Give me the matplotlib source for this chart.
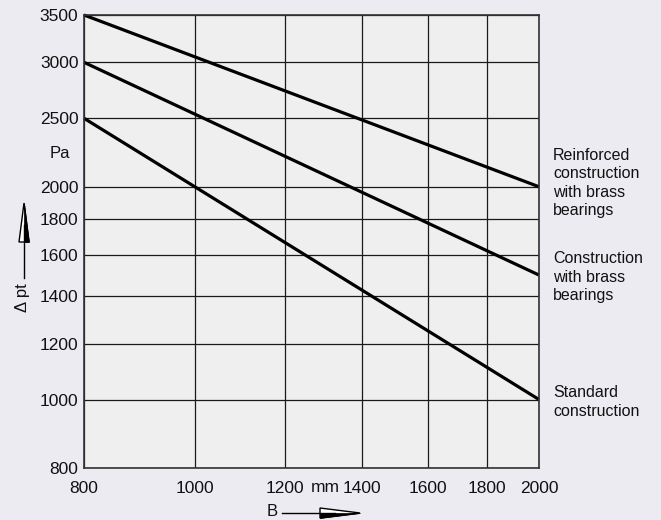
import matplotlib
matplotlib.use("Agg")
import matplotlib.pyplot as plt
from matplotlib.patches import Polygon
from matplotlib.lines import Line2D

plt.rcParams['font.family'] = ['Liberation Sans', 'DejaVu Sans']

# fan width B (mm) at both ends of the range
b_ends = [800, 2000]

# pressure drop curves (Pa), straight lines on log-log paper
reinforced = [3500, 2000]
brass = [3000, 1500]
standard = [2500, 1000]

x_ticks = [800, 1000, 1200, 1400, 1600, 1800, 2000]
y_ticks = [800, 1000, 1200, 1400, 1600, 1800, 2000, 2500, 3000, 3500]

labels = ["Reinforced\nconstruction\nwith brass\nbearings",
          "Construction\nwith brass\nbearings",
          "Standard\nconstruction"]
label_y = [183, 277, 402]   # block centres, pixels from top

W, H = 661, 520
fig = plt.figure(figsize=(W / 100, H / 100), dpi=100)
fig.patch.set_facecolor('#edebf2')

ax = fig.add_axes([84 / W, 1 - 468 / H, (539 - 84) / W, (468 - 15) / H])
ax.set_facecolor('#efefef')
ax.set_xscale('log')
ax.set_yscale('log')
ax.set_xlim(800, 2000)
ax.set_ylim(800, 3500)

ax.set_xticks(x_ticks)
ax.set_xticklabels([str(v) for v in x_ticks])
ax.set_yticks(y_ticks)
ax.set_yticklabels([str(v) for v in y_ticks])
ax.xaxis.set_minor_locator(matplotlib.ticker.NullLocator())
ax.yaxis.set_minor_locator(matplotlib.ticker.NullLocator())
ax.tick_params(axis='both', length=0, labelsize=12.5, colors='#111111')
ax.tick_params(axis='y', pad=4)
ax.tick_params(axis='x', pad=9.5)

ax.grid(True, color='#1a1a1a', lw=0.9)
for s in ax.spines.values():
    s.set_color('#333333')
    s.set_linewidth(1.2)

for ys in (reinforced, brass, standard):
    ax.plot(b_ends, ys, color='black', lw=2.3, solid_capstyle='butt', clip_on=False)


def px(x, y):
    # pixel position (from top-left) to figure fraction
    return x / W, 1 - y / H


for txt, yc in zip(labels, label_y):
    fig.text(*px(553, yc), txt, ha='left', va='center', fontsize=11.5,
             linespacing=1.3, color='#111111')

fig.text(*px(325, 487), "mm", ha='center', va='center', fontsize=12.5, color='#111111')
fig.text(*px(60, 153), "Pa", ha='center', va='center', fontsize=12, color='#111111')

# vertical arrow for Δpt
fig.add_artist(Line2D(*zip(px(24, 278), px(24, 225)), transform=fig.transFigure,
                      color='black', lw=1.0))
fig.add_artist(Polygon([px(24, 203), px(19, 242), px(29, 242)], closed=True,
                       transform=fig.transFigure, facecolor='white', edgecolor='black', lw=1.0))
fig.add_artist(Polygon([px(24, 203), px(24, 242), px(29, 242)], closed=True,
                       transform=fig.transFigure, facecolor='black', edgecolor='black', lw=0.5))
fig.text(*px(23, 298), "Δ pt", rotation=90, ha='center', va='center', fontsize=12,
         color='#111111')

# horizontal arrow for B
fig.text(*px(272, 511), "B", ha='center', va='center', fontsize=12, color='#111111')
fig.add_artist(Line2D(*zip(px(282, 513), px(335, 513)), transform=fig.transFigure,
                      color='black', lw=1.0))
fig.add_artist(Polygon([px(360, 513), px(320, 508), px(320, 518)], closed=True,
                       transform=fig.transFigure, facecolor='white', edgecolor='black', lw=1.0))
fig.add_artist(Polygon([px(360, 513), px(320, 513), px(320, 518)], closed=True,
                       transform=fig.transFigure, facecolor='black', edgecolor='black', lw=0.5))

fig.savefig("out.png", dpi=100, facecolor=fig.get_facecolor())
